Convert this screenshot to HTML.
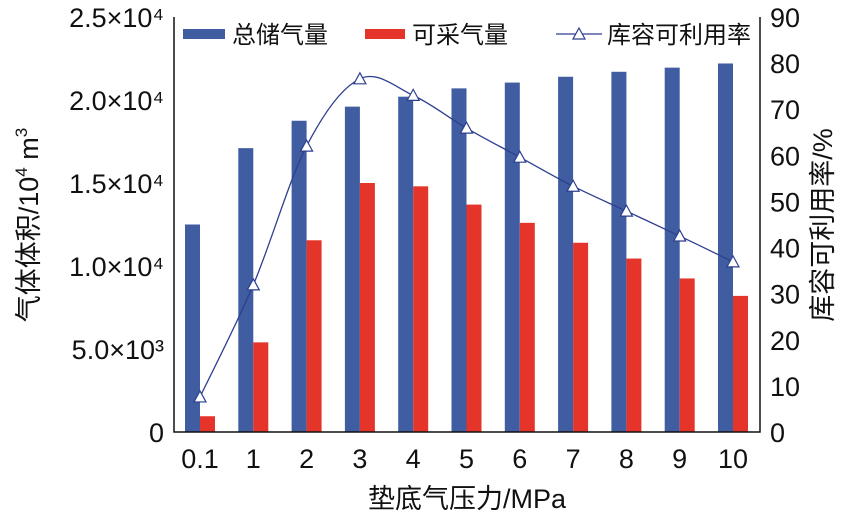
<!DOCTYPE html>
<html><head><meta charset="utf-8"><style>
body{margin:0;background:#fff}
text{font-family:"Liberation Sans","Noto Sans CJK SC",sans-serif;fill:#111}
</style></head><body>
<svg id="c" width="851" height="519"></svg>
<script>
const categories=["0.1","1","2","3","4","5","6","7","8","9","10"];
const totalGas=[12500,17100,18750,19600,20200,20700,21050,21400,21700,21950,22200];
const recoverableGas=[950,5400,11550,15000,14800,13700,12600,11400,10450,9250,8200];
const utilization=[7.6,31.9,62,76.6,73,65.9,59.6,53.3,47.9,42.5,36.9];
const leftTicks=[[0,"0"],[5000,"5.0×10³"],[10000,"1.0×10⁴"],[15000,"1.5×10⁴"],[20000,"2.0×10⁴"],[25000,"2.5×10⁴"]];
const rightTicks=[0,10,20,30,40,50,60,70,80,90];
const NS="http://www.w3.org/2000/svg",svg=document.getElementById('c');
const X0=174,X1=760,Y0=432,Y1=17;
const yL=v=>Y0-(v/25000)*(Y0-Y1);
const yR=v=>Y0-(v/90)*(Y0-Y1);
const xC=i=>200+i*53.3;
function el(t,a,txt){const e=document.createElementNS(NS,t);for(const k in a)e.setAttribute(k,a[k]);if(txt!=null)e.textContent=txt;svg.appendChild(e);return e;}
totalGas.forEach((v,i)=>{const e=el('rect',{x:xC(i)-15,y:yL(v),width:15,height:Y0-yL(v),fill:'#3f5da0'});

});
recoverableGas.forEach((v,i)=>{const e=el('rect',{x:xC(i),y:yL(v),width:15,height:Y0-yL(v),fill:'#e5352b'});

});
const pts=utilization.map((v,i)=>[xC(i),yR(v)]);
let d='M'+pts[0].join(',');
for(let i=0;i<pts.length-1;i++){const p0=pts[Math.max(0,i-1)],p1=pts[i],p2=pts[i+1],p3=pts[Math.min(pts.length-1,i+2)];
d+=` C${p1[0]+(p2[0]-p0[0])/6},${p1[1]+(p2[1]-p0[1])/6} ${p2[0]-(p3[0]-p1[0])/6},${p2[1]-(p3[1]-p1[1])/6} ${p2[0]},${p2[1]}`;}
const ln=el('path',{d:d,fill:'none',stroke:'#2e3f8f','stroke-width':1.3});


pts.forEach((p,i)=>{const m=el('path',{d:`M${p[0]},${p[1]-6} L${p[0]+6},${p[1]+5} L${p[0]-6},${p[1]+5}Z`,fill:'#fff',stroke:'#2e3f8f','stroke-width':1.2});

});
const ax=el('path',{d:`M${X0},${Y1} V${Y0} H${X1} V${Y1}`,fill:'none',stroke:'#111','stroke-width':1.5});


leftTicks.forEach(t=>{const e=el('text',{x:164,y:yL(t[0])+10,'text-anchor':'end','font-size':27},t[1]);

});
rightTicks.forEach(t=>{const e=el('text',{x:770,y:yR(t)+10,'font-size':27},t);

});
categories.forEach((c,i)=>{const e=el('text',{x:xC(i),y:468,'text-anchor':'middle','font-size':27},c);

});
</script>
<svg width="851" height="519" style="position:absolute;left:0;top:0">
<text x="467" y="508" text-anchor="middle" font-size="27">垫底气压力/MPa</text>
<text transform="translate(38,225) rotate(-90)" text-anchor="middle" font-size="27">气体体积/10<tspan font-size="17" dy="-11">4</tspan><tspan dy="11"> m</tspan><tspan font-size="17" dy="-11">3</tspan></text>
<text transform="translate(832,225) rotate(-90)" text-anchor="middle" font-size="27">库容可利用率/%</text>
<g>
<rect x="183" y="29" width="42" height="10" fill="#3f5da0"/>
<text x="232" y="43" font-size="24">总储气量</text>
<rect x="365" y="29" width="40" height="10" fill="#e5352b"/>
<text x="412" y="43" font-size="24">可采气量</text>
<line x1="556" y1="34" x2="602" y2="34" stroke="#2e3f8f" stroke-width="1.3"/>
<path d="M579,28 L585,39 L573,39Z" fill="#fff" stroke="#2e3f8f" stroke-width="1.2"/>
<text x="607" y="43" font-size="24">库容可利用率</text>
</g>
</svg>
</body></html>
